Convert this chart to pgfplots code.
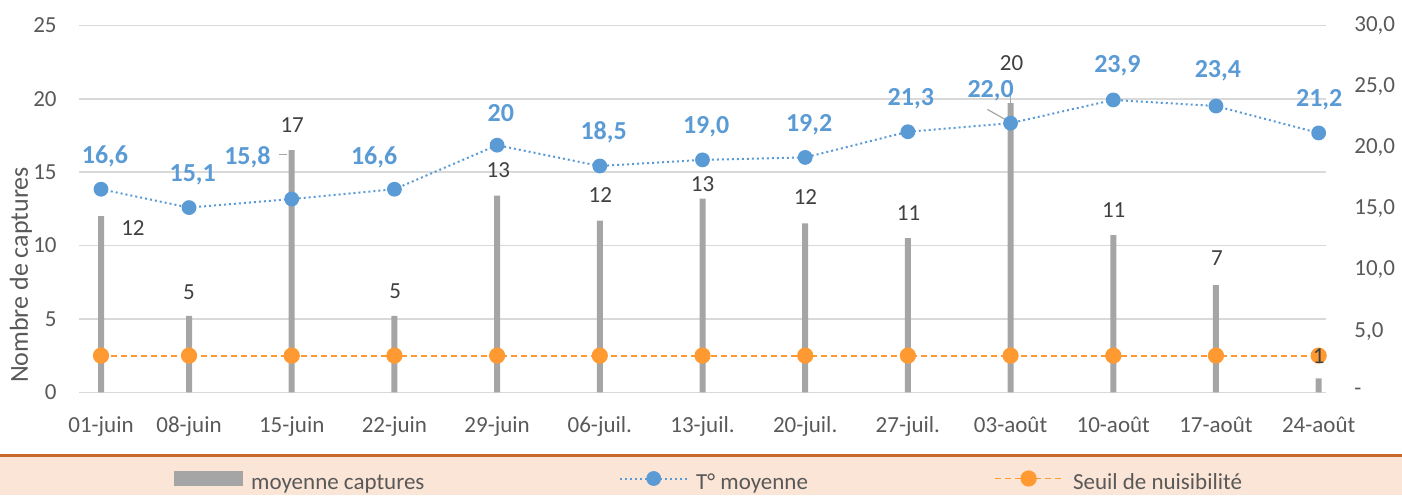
\documentclass[border=0pt]{standalone}
\usepackage{fontspec}
\setmainfont{Carlito}
\usepackage{pgfplots}
\pgfplotsset{compat=1.18}
\definecolor{barcol}{HTML}{A5A5A5}
\definecolor{bluec}{HTML}{5B9BD5}
\definecolor{orangec}{HTML}{FF9A33}
\definecolor{textgray}{HTML}{595959}
\definecolor{labcol}{HTML}{404040}
\definecolor{gridcol}{HTML}{D9D9D9}
\definecolor{peach}{HTML}{FBE5D6}
\definecolor{legline}{HTML}{C8682A}

\pgfplotstableread{
x  bars  temp  seuil
0  12.0  16.6  2.5
6  5.2   15.1  2.5
13 16.5  15.8  2.5
20 5.2   16.6  2.5
27 13.4  20.2  2.5
34 11.7  18.5  2.5
41 13.2  19.0  2.5
48 11.5  19.2  2.5
55 10.5  21.3  2.5
62 19.7  22.0  2.5
69 10.7  23.9  2.5
76 7.3   23.4  2.5
83 0.95  21.2  2.5
}\datatable

\begin{document}
\begin{tikzpicture}
\useasboundingbox (-39.5pt,-51.35pt) rectangle (661.5pt,196.15pt);
\fill[peach] (-39.5pt,-51.35pt) rectangle (661.5pt,-32.2pt);
\draw[legline, line width=1.1pt] (-39.5pt,-31.6pt) -- (661.5pt,-31.6pt);

\begin{axis}[
  at={(0pt,0pt)}, anchor=south west, scale only axis,
  width=623.5pt, height=183.5pt,
  xmin=-1.5, xmax=83.5, ymin=0, ymax=25,
  xtick={0,6,13,20,27,34,41,48,55,62,69,76,83},
  xticklabels={01-juin,08-juin,15-juin,22-juin,29-juin,06-juil.,13-juil.,20-juil.,27-juil.,03-août,10-août,17-août,24-août},
  ytick={0,5,10,15,20,25},
  yticklabels={0,5,10,15,20,25},
  ymajorgrids, grid style={draw=gridcol, line width=0.8pt},
  axis line style={draw=none},
  major tick length=0pt,
  tick label style={font=\fontsize{11.5}{13}\selectfont, text=textgray},
  yticklabel style={anchor=east, inner sep=0pt, xshift=-11pt},
  xticklabel style={anchor=north, inner sep=0pt, yshift=-12pt},
  ylabel={Nombre de captures},
  ylabel style={at={(axis description cs:-0.0465,0.3196)}, anchor=center, font=\fontsize{13}{15}\selectfont, text=textgray},
  clip=false,
]
\addplot[ybar, bar width=3pt, fill=barcol, draw=none] table[x=x, y=bars] {\datatable};
\addplot[color=orangec, draw=orangec, line width=0.9pt, dash pattern=on 3pt off 2pt, mark=*, mark size=3.6pt, mark options={solid, fill=orangec, draw=orangec}] table[x=x, y=seuil] {\datatable};
\end{axis}

\begin{axis}[
  at={(0pt,0pt)}, anchor=south west, scale only axis,
  width=623.5pt, height=183.5pt,
  xmin=-1.5, xmax=83.5, ymin=0, ymax=30,
  axis x line=none, axis y line*=right,
  axis line style={draw=none},
  major tick length=0pt,
  ytick={0,5,10,15,20,25,30},
  yticklabels={-,{5,0},{10,0},{15,0},{20,0},{25,0},{30,0}},
  yticklabel style={anchor=west, inner sep=0pt, xshift=14pt, font=\fontsize{11.5}{13}\selectfont, text=textgray},
  clip=false,
  legend columns=3,
  legend style={at={(axis description cs:0.0762,-0.2445)}, anchor=west, draw=none, fill=none,
    inner sep=0pt, column sep=0pt, row sep=0pt,
    nodes={inner sep=0pt, text=textgray, font=\fontsize{11.5}{13}\selectfont}},
  legend image code/.code={\draw[mark repeat=2,mark phase=2,#1] plot coordinates {(0pt,2.5pt) (16.75pt,2.5pt) (33.5pt,2.5pt)};},
]
\addlegendimage{legend image code/.code={\fill[barcol] (0pt,-1pt) rectangle (34pt,6pt);}}
\addlegendentry{\makebox[188pt][l]{\hspace{4pt}moyenne captures}}
\addplot[color=bluec, line width=1pt, dash pattern=on 1pt off 1.5pt, mark=*, mark size=3.2pt, mark options={solid, fill=bluec, draw=bluec}] table[x=x, y=temp] {\datatable};
\addlegendentry{\makebox[153pt][l]{\hspace{4pt}T° moyenne}}
\addlegendimage{color=orangec, draw=orangec, line width=0.9pt, dash pattern=on 3pt off 2pt, mark=*, mark size=3.6pt, mark options={solid, fill=orangec, draw=orangec}}
\addlegendentry{\hspace{5pt}Seuil de nuisibilité}

% leader lines
\draw[gray!70, line width=0.6pt] (axis cs:60.42,23.13) -- (axis cs:61.9,22.12);
\draw[gray!70, line width=0.5pt] (axis cs:62,25.5) -- (axis cs:62,23.6);
\draw[gray!70, line width=0.6pt] (axis cs:12.1,19.42) -- (axis cs:12.7,19.42);

% bar labels
\begin{scope}[every node/.style={font=\fontsize{11.5}{13}\selectfont, text=labcol}]
\node at (axis cs:2.18,13.43) {12};
\node at (axis cs:6.0,8.22) {5};
\node at (axis cs:13.03,21.85) {17};
\node at (axis cs:20.05,8.25) {5};
\node at (axis cs:27.08,18.18) {13};
\node at (axis cs:34.04,16.13) {12};
\node at (axis cs:41.0,17.03) {13};
\node at (axis cs:48.02,15.94) {12};
\node at (axis cs:55.05,14.63) {11};
\node at (axis cs:62.07,26.92) {20};
\node at (axis cs:69.03,14.92) {11};
\node at (axis cs:76.06,10.98) {7};
\node at (axis cs:83.0,2.99) {1};
\end{scope}

% temperature labels
\begin{scope}[every node/.style={font=\bfseries\fontsize{13}{15}\selectfont, text=bluec}]
\node at (axis cs:0.27,19.26) {16,6};
\node at (axis cs:6.25,17.76) {15,1};
\node at (axis cs:9.98,19.21) {15,8};
\node at (axis cs:18.62,19.23) {16,6};
\node at (axis cs:27.26,22.86) {20};
\node at (axis cs:34.26,21.22) {18,5};
\node at (axis cs:41.25,21.71) {19,0};
\node at (axis cs:48.27,21.88) {19,2};
\node at (axis cs:55.2,24.03) {21,3};
\node at (axis cs:60.64,24.65) {22,0};
\node at (axis cs:69.28,26.67) {23,9};
\node at (axis cs:76.13,26.26) {23,4};
\node at (axis cs:83.04,23.95) {21,2};
\end{scope}
\end{axis}
\end{tikzpicture}
\end{document}
